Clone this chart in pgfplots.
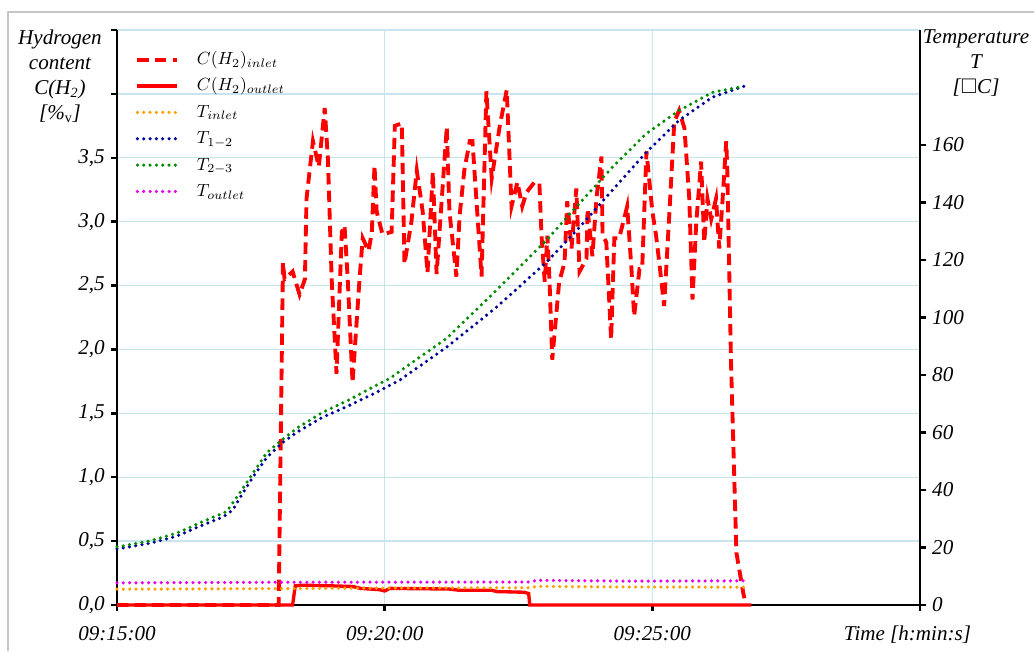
\documentclass[border=0pt]{standalone}
\usepackage{fontspec}
\setmainfont{Liberation Serif}
\usepackage{amssymb}
\usepackage{pgfplots}
\usepackage{pgfplotstable}
\pgfplotsset{compat=1.18}

\definecolor{gridblue}{RGB}{200,228,238}
\definecolor{tinlet}{RGB}{255,160,0}
\definecolor{tonetwo}{RGB}{0,0,150}
\definecolor{ttwothree}{RGB}{0,140,0}
\definecolor{toutlet}{RGB}{230,0,230}

\pgfplotsset{
  tdot/.style={line width=2pt, line cap=round, dash pattern=on 0pt off 3.6pt},
  hdash/.style={red, line width=2.2pt, dash pattern=on 6.5pt off 3.5pt},
}

% time in minutes after 09:15:00, C(H2) in %v
\pgfplotstableread{
t c
0 0
3.02 0
3.10 2.68
3.13 2.55
3.28 2.61
3.41 2.43
3.51 2.55
3.54 3.18
3.66 3.63
3.77 3.43
3.88 3.89
3.94 3.49
4.01 2.55
4.10 1.81
4.20 2.92
4.25 2.97
4.31 2.55
4.40 1.74
4.53 2.55
4.59 2.87
4.70 2.77
4.76 2.92
4.81 3.44
4.85 3.08
4.96 2.90
5.13 2.92
5.19 3.75
5.32 3.77
5.37 2.67
5.50 3.00
5.60 3.40
5.71 3.08
5.80 2.60
5.90 3.39
5.97 2.59
6.16 3.74
6.21 3.08
6.34 2.57
6.40 3.05
6.49 3.41
6.59 3.63
6.64 3.63
6.81 2.57
6.90 4.02
7.00 3.34
7.15 3.75
7.28 4.03
7.37 3.12
7.48 3.31
7.57 3.12
7.65 3.23
7.80 3.31
7.89 3.30
7.93 2.89
7.99 2.53
8.04 2.89
8.08 2.53
8.13 1.92
8.26 2.53
8.36 2.68
8.41 3.16
8.49 2.79
8.58 3.26
8.64 2.61
8.77 2.71
8.79 3.10
8.88 2.73
8.96 3.20
9.05 3.51
9.07 2.89
9.14 2.84
9.23 2.08
9.29 2.87
9.38 2.87
9.53 3.12
9.61 2.63
9.66 2.26
9.76 2.63
9.81 2.63
9.89 3.55
10.00 3.08
10.07 2.89
10.13 2.68
10.22 2.34
10.32 3.08
10.41 3.78
10.50 3.87
10.60 3.73
10.69 3.18
10.75 2.39
10.82 2.99
10.88 3.31
10.91 3.47
10.97 2.84
11.03 3.18
11.10 3.02
11.19 3.18
11.25 2.79
11.31 3.16
11.38 3.63
11.40 3.41
11.47 1.89
11.57 0.41
11.70 0.09
11.75 0.0
}\inlet

\pgfplotstableread{
t c
0 0
3.28 0
3.33 0.15
3.45 0.155
4.00 0.15
4.40 0.145
4.55 0.13
4.90 0.12
5.00 0.11
5.10 0.13
6.20 0.125
6.40 0.115
7.00 0.115
7.10 0.105
7.60 0.10
7.69 0.09
7.71 0
11.85 0
}\outlet

% temperatures in degC
\pgfplotstableread{
t T
0 5.5
3.0 5.7
5.0 5.9
7.7 6.0
7.85 6.5
9.0 6.3
11.75 6.2
}\tin

\pgfplotstableread{
t T
0 19.5
0.62 21.5
1.12 24.0
1.60 27.8
1.98 30.6
2.16 33.0
2.35 38.9
2.54 44.5
2.80 51.4
3.08 56.3
3.36 60.1
3.84 65.3
4.35 69.5
4.85 74.0
5.28 78.2
6.16 89.7
7.09 103.6
8.02 119.2
8.64 131.4
9.25 144.2
9.89 157.5
10.50 168.6
11.12 176.6
11.75 180.7
}\tonetwo

\pgfplotstableread{
t T
0 20.2
0.62 22.3
1.12 25.0
1.60 29.0
2.05 32.5
2.35 40.5
2.54 45.9
2.80 53.0
3.08 57.4
3.36 61.5
3.84 67.0
4.35 71.5
4.85 76.5
5.10 78.9
6.16 92.8
7.09 109.5
8.02 126.9
8.64 139.7
9.25 152.2
9.89 164.0
10.50 172.0
11.12 178.3
11.69 180.4
}\ttwothree

\pgfplotstableread{
t T
0 7.7
3.0 7.9
7.7 8.0
7.85 8.6
9.5 8.3
11.75 8.4
}\tout

\begin{document}
\begin{tikzpicture}
\useasboundingbox (0,0) rectangle (20.68,13.02);
\draw[gray!45, line width=0.8pt] (0.16,0) -- (0.16,12.78) -- (20.68,12.78);

% hydrogen content, left axis
\begin{axis}[
  at={(2.34cm,0.92cm)}, anchor=south west,
  scale only axis, width=16.06cm, height=11.5cm,
  xmin=0, xmax=15, ymin=0, ymax=4.5,
  axis x line*=bottom, axis y line*=left,
  axis line style={-, line width=1.4pt, black},
  xtick={0,5,10,15},
  xticklabels={09:15:00,09:20:00,09:25:00,{Time [h:min:s]\hspace*{0.5cm}}},
  ytick={0,0.5,1,1.5,2,2.5,3,3.5,4,4.5},
  yticklabels={{0,0},{0,5},{1,0},{1,5},{2,0},{2,5},{3,0},{3,5},{},{}},
  grid=major, major grid style={gridblue, line width=0.8pt},
  tick align=outside, major tick length=0.12cm,
  tick style={black, line width=1.4pt},
  ticklabel style={font=\itshape\fontsize{12}{14}\selectfont},
  xticklabel style={yshift=-0.18cm},
  clip=false,
]
\addplot[hdash] table[x=t, y=c] {\inlet};
\addplot[red, line width=1.9pt] table[x=t, y=c] {\outlet};
\end{axis}

% temperature, right axis
\begin{axis}[
  at={(2.34cm,0.92cm)}, anchor=south west,
  scale only axis, width=16.06cm, height=11.5cm,
  xmin=0, xmax=15, ymin=0, ymax=200,
  hide x axis, axis y line*=right,
  axis line style={-, line width=1.4pt, black},
  ytick={0,20,40,60,80,100,120,140,160},
  yticklabels={0,20,40,60,80,100,120,140,160},
  tick align=outside, major tick length=0.12cm,
  tick style={black, line width=1.4pt},
  ticklabel style={font=\itshape\fontsize{12}{14}\selectfont},
  clip=false,
  legend image code/.code={\draw[#1] (0cm,0cm) -- (0.8cm,0cm);},
  legend cell align=left,
  legend style={draw=none, fill=none, at={(0.016,0.978)}, anchor=north west,
    font=\fontsize{10}{12}\selectfont, row sep=0pt,
    nodes={inner sep=1.5pt, text height=8.8pt, text depth=3.2pt},
    /tikz/every odd column/.append style={column sep=0.3cm}},
]
\addlegendimage{hdash}
\addlegendentry{$C(H_2)_{inlet}$}
\addlegendimage{red, line width=1.9pt}
\addlegendentry{$C(H_2)_{outlet}$}
\addplot[tinlet, tdot] table[x=t, y=T] {\tin};
\addlegendentry{$T_{inlet}$}
\addplot[tonetwo, tdot] table[x=t, y=T] {\tonetwo};
\addlegendentry{$T_{1-2}$}
\addplot[ttwothree, tdot] table[x=t, y=T] {\ttwothree};
\addlegendentry{$T_{2-3}$}
\addplot[toutlet, tdot] table[x=t, y=T] {\tout};
\addlegendentry{$T_{outlet}$}
\end{axis}

\node[anchor=north, align=center, inner sep=0,
  font=\itshape\fontsize{12}{14.2}\selectfont] at (1.2,12.43)
  {Hydrogen\\content\\C(H\textsubscript{2})\\{[}\%\textsubscript{\upshape v}{]}};
\node[anchor=north, align=center, inner sep=0,
  font=\itshape\fontsize{12}{14.2}\selectfont] at (19.52,12.43)
  {Temperature\\T\\{[}{\upshape$\square$}C{]}};
\end{tikzpicture}
\end{document}
